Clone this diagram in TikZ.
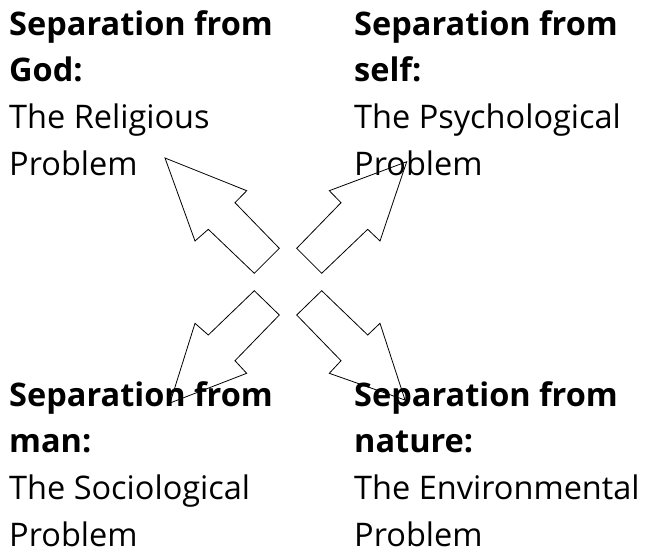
\documentclass[tikz,border=0pt]{standalone}
\usepackage{fontspec}
\setmainfont{Open Sans}
\begin{document}
\begin{tikzpicture}[x=1pt,y=-1pt,
  lbl/.style={anchor=north west,inner sep=0pt,align=left,font=\fontsize{32.5}{46.7}\selectfont},
  blockarrow/.style={draw=black,line width=0.8pt,line join=miter}]
\useasboundingbox[fill=white] (0,0) rectangle (654,552);
% labels
\node[lbl] (god) at (9,10) {\textbf{Separation from}\\\textbf{God:}\\The Religious\\Problem};
\node[lbl] (self) at (354,10) {\textbf{Separation from}\\\textbf{self:}\\The Psychological\\Problem};
\node[lbl] (man) at (9,381) {\textbf{Separation from}\\\textbf{man:}\\The Sociological\\Problem};
\node[lbl] (nature) at (354,381) {\textbf{Separation from}\\\textbf{nature:}\\The Environmental\\Problem};
% block arrows
\draw[blockarrow] (279.3,248.3) -- (235,202.7) -- (246.7,190.7) -- (165,158) -- (195,241) -- (208.3,229.3) -- (254.3,273.3) -- cycle;
\draw[blockarrow] (296.7,248.3) -- (341,202.7) -- (329.3,190.7) -- (406.7,161.7) -- (380,241) -- (367.7,229.3) -- (321.7,273.3) -- cycle;
\draw[blockarrow] (254.3,290.7) -- (208.3,335) -- (195,323.3) -- (170,403) -- (246.7,373.3) -- (235,360.7) -- (279.3,315) -- cycle;
\draw[blockarrow] (321.7,290.7) -- (367.7,335) -- (380,323.3) -- (405,400) -- (329.3,373.3) -- (341,360.7) -- (296.7,315) -- cycle;
\end{tikzpicture}
\end{document}
